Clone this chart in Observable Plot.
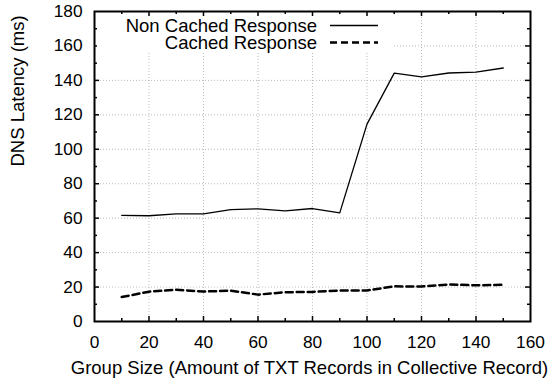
<!DOCTYPE html>
<html>
<head>
<meta charset="utf-8">
<script src="https://cdn.jsdelivr.net/npm/d3@7"></script>
<script src="https://cdn.jsdelivr.net/npm/@observablehq/plot@0.6"></script>
<style>
  html, body { margin: 0; padding: 0; background: #fff; }
  #wrap { position: relative; width: 553px; height: 382px; font-family: "Liberation Sans", Arial, Helvetica, sans-serif; }
  #legend { position: absolute; left: 97px; top: 16px; width: 295px; height: 36px; background: #fff; }
  #legend .row { position: absolute; left: 0; width: 285px; height: 17px; }
  #legend .lbl { position: absolute; right: 65px; top: 0; font-size: 18.5px; line-height: 17px; white-space: nowrap; color: #000; }
  #legend svg { position: absolute; left: 233px; top: 0; }
</style>
</head>
<body>
<div id="wrap"><div id="chart"></div>
  <div id="legend">
    <div class="row" style="top:0.5px"><span class="lbl">Non Cached Response</span>
      <svg width="50" height="17"><line x1="0" x2="48" y1="8.5" y2="8.5" stroke="#000" stroke-width="1.3"/></svg></div>
    <div class="row" style="top:18px"><span class="lbl">Cached Response</span>
      <svg width="50" height="17"><line x1="0" x2="48" y1="8.5" y2="8.5" stroke="#000" stroke-width="2.5" stroke-dasharray="7,4"/></svg></div>
  </div>
</div>
<script>
const groupSizes = [10, 20, 30, 40, 50, 60, 70, 80, 90, 100, 110, 120, 130, 140, 150];
const nonCached = [61.6, 61.4, 62.5, 62.5, 65.0, 65.4, 64.2, 65.6, 63.1, 114.6, 144.2, 142.0, 144.3, 144.8, 147.2];
const cached = [14.2, 17.3, 18.4, 17.4, 17.9, 15.6, 17.0, 17.2, 18.0, 18.0, 20.4, 20.3, 21.5, 21.0, 21.3];
const xTicks = [0, 20, 40, 60, 80, 100, 120, 140, 160];
const yTicks = [0, 20, 40, 60, 80, 100, 120, 140, 160, 180];
const xMinor = [10, 30, 50, 70, 90, 110, 130, 150];
const yMinor = [10, 30, 50, 70, 90, 110, 130, 150, 170];
const xLabel = "Group Size (Amount of TXT Records in Collective Record)";
const yLabel = "DNS Latency (ms)";

const W = 553, H = 382, mL = 94, mR = 23, mT = 11, mB = 61;
const plotH = H - mT - mB, plotW = W - mL - mR;
const nonData = groupSizes.map((x, i) => ({x, y: nonCached[i]}));
const cacData = groupSizes.map((x, i) => ({x, y: cached[i]}));
const innerX = xTicks.slice(1, -1), innerY = yTicks.slice(1, -1);
const font = "'Liberation Sans', Arial, Helvetica, sans-serif";

const chart = Plot.plot({
  width: W, height: H,
  marginLeft: mL, marginRight: mR, marginTop: mT, marginBottom: mB,
  style: {fontFamily: font, background: "#fff", color: "#000"},
  x: {domain: [0, 160]},
  y: {domain: [0, 180]},
  marks: [
    Plot.gridX(innerX, {stroke: "#aaa", strokeOpacity: 1, strokeDasharray: "1,2", strokeWidth: 0.8}),
    Plot.gridY(innerY, {stroke: "#aaa", strokeOpacity: 1, strokeDasharray: "1,2", strokeWidth: 0.8}),
    Plot.tickX(innerX, {x: d => d, insetTop: plotH - 5, strokeWidth: 1.5}),
    Plot.tickX(innerX, {x: d => d, insetBottom: plotH - 5, strokeWidth: 1.5}),
    Plot.tickX(xMinor, {x: d => d, insetTop: plotH - 3, strokeWidth: 1.5}),
    Plot.tickX(xMinor, {x: d => d, insetBottom: plotH - 3, strokeWidth: 1.5}),
    Plot.tickY(innerY, {y: d => d, insetRight: plotW - 5, strokeWidth: 1.5}),
    Plot.tickY(innerY, {y: d => d, insetLeft: plotW - 5, strokeWidth: 1.5}),
    Plot.tickY(yMinor, {y: d => d, insetRight: plotW - 3, strokeWidth: 1.5}),
    Plot.tickY(yMinor, {y: d => d, insetLeft: plotW - 3, strokeWidth: 1.5}),
    Plot.axisX(xTicks, {tickSize: 0, tickPadding: 14, fontSize: 17.3, label: null}),
    Plot.axisY(yTicks, {tickSize: 0, tickPadding: 12, fontSize: 17.3, label: null}),
    Plot.line(nonData, {x: "x", y: "y", stroke: "#000", strokeWidth: 1.3}),
    Plot.line(cacData, {x: "x", y: "y", stroke: "#000", strokeWidth: 2.5, strokeDasharray: "7,4"}),
    Plot.frame({stroke: "#000", strokeWidth: 2}),
    Plot.text([yLabel], {text: d => d, frameAnchor: "left", rotate: -90, dx: -76.5, fontSize: 18.5, lineAnchor: "middle"}),
    Plot.text([xLabel], {text: d => d, frameAnchor: "bottom", dy: 47, dx: -3, fontSize: 18.5, lineAnchor: "middle"})
  ]
});
document.getElementById("chart").appendChild(chart);
</script>
</body>
</html>
